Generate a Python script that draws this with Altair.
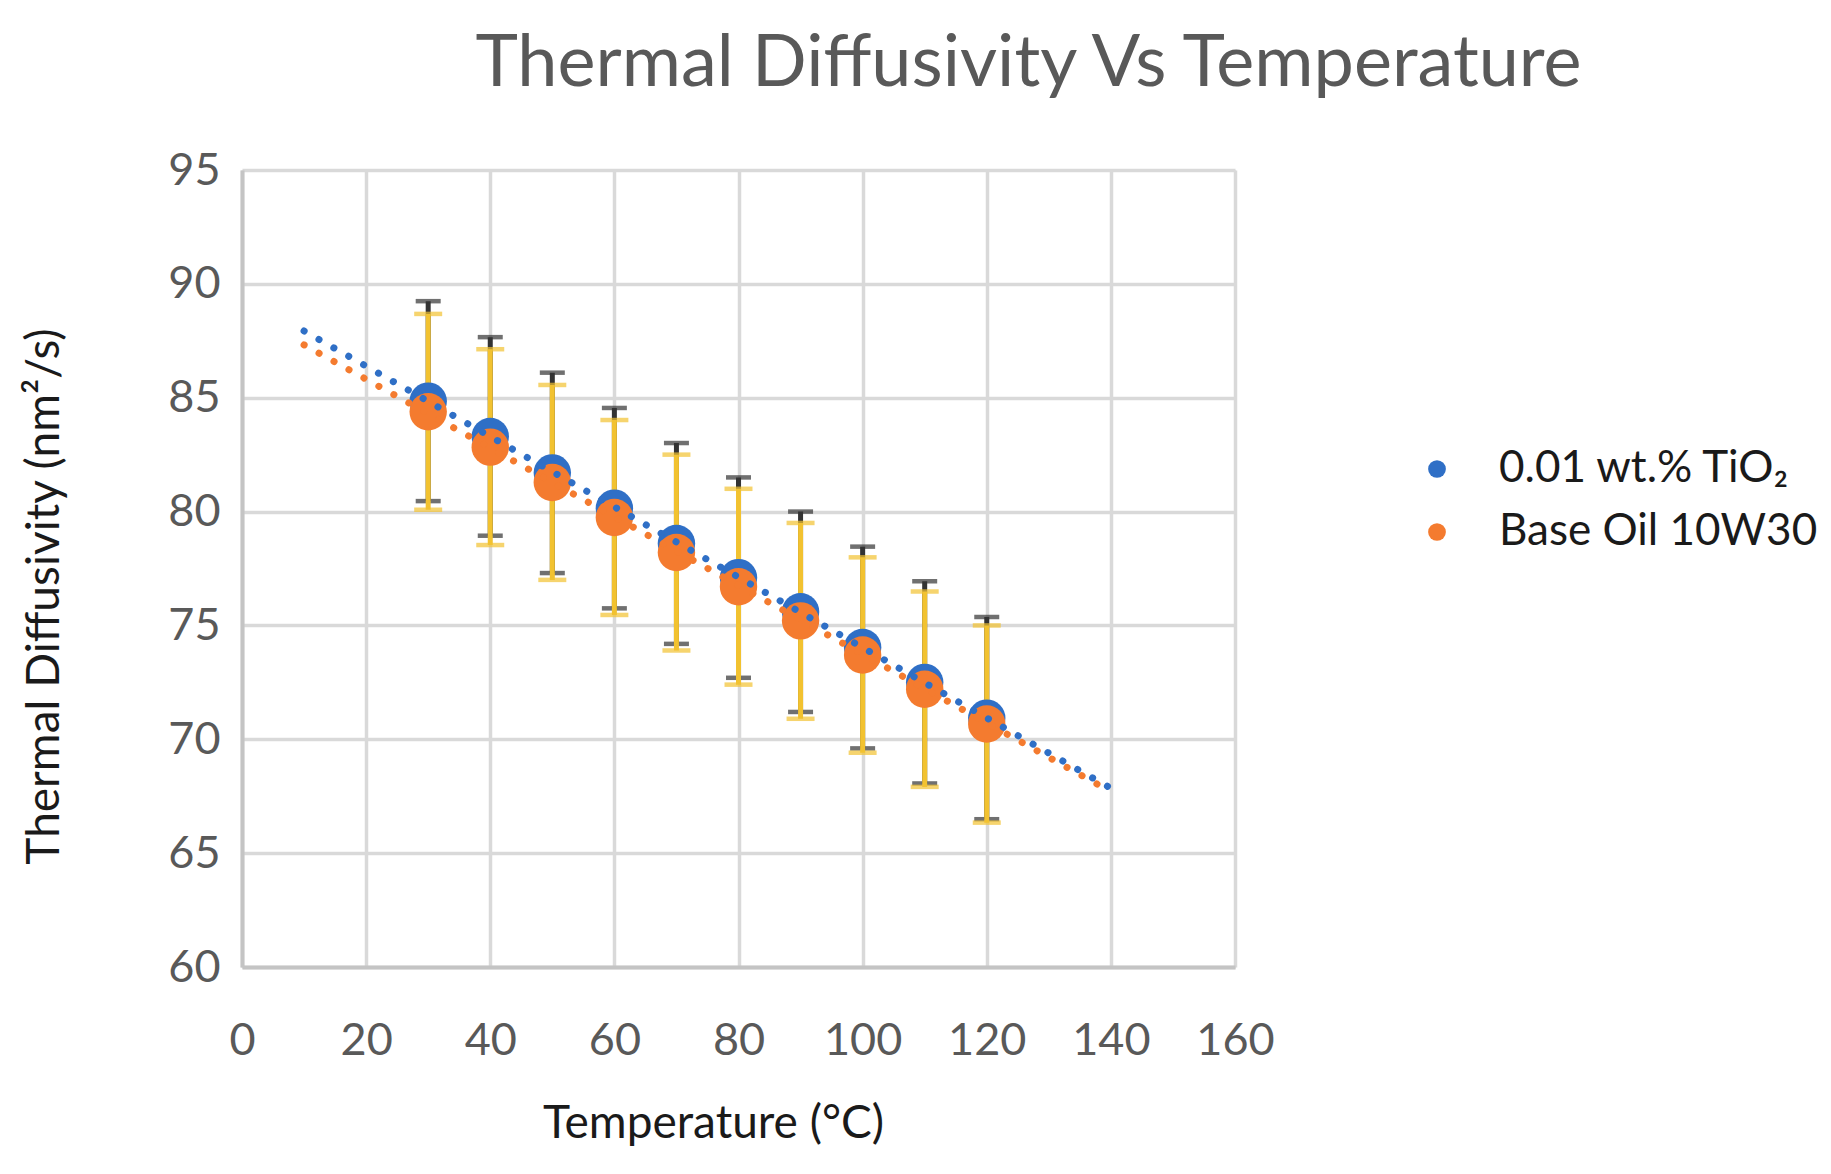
import altair as alt
import pandas as pd

# values
temps = [30, 40, 50, 60, 70, 80, 90, 100, 110, 120]
tio2 = [84.85, 83.3, 81.7, 80.15, 78.6, 77.1, 75.6, 74.03, 72.5, 70.93]
base_oil = [84.38, 82.83, 81.28, 79.74, 78.2, 76.7, 75.2, 73.7, 72.2, 70.67]
tio2_err = [4.39, 4.36, 4.4, 4.4, 4.41, 4.4, 4.4, 4.43, 4.44, 4.44]
base_err = [4.3, 4.3, 4.28, 4.28, 4.3, 4.3, 4.3, 4.29, 4.29, 4.33]

trend_x = [10, 140]
trend_tio2 = [87.93, 67.85]
trend_base = [87.32, 67.7]

x_ticks = [0, 20, 40, 60, 80, 100, 120, 140, 160]
y_ticks = [60, 65, 70, 75, 80, 85, 90, 95]

s1 = "0.01 wt.% TiO₂"
s2 = "Base Oil 10W30"
blue = "#2F6FC6"
orange = "#F47B2F"
gold = "#F2C230"
dark = "#333333"
font = "Lato"

pts = pd.DataFrame({
    "temp": temps + temps,
    "diff": tio2 + base_oil,
    "series": [s1] * len(temps) + [s2] * len(temps),
})

err1 = pd.DataFrame({"temp": temps,
                     "lo": [v - e for v, e in zip(tio2, tio2_err)],
                     "hi": [v + e for v, e in zip(tio2, tio2_err)]})
err2 = pd.DataFrame({"temp": temps,
                     "lo": [v - e for v, e in zip(base_oil, base_err)],
                     "hi": [v + e for v, e in zip(base_oil, base_err)]})

tr1 = pd.DataFrame({"temp": trend_x, "diff": trend_tio2})
tr2 = pd.DataFrame({"temp": trend_x, "diff": trend_base})

x_axis = alt.Axis(values=x_ticks, grid=True, gridColor="#d9d9d9", gridWidth=3.5,
                  domainColor="#c4c4c4", domainWidth=4, ticks=False, tickSize=0,
                  labelFont=font, labelFontSize=45, labelColor="#595959",
                  labelBaseline="alphabetic", labelPadding=87, labelFlush=False,
                  labelOverlap=False,
                  title="Temperature (°C)", titleFont=font, titleFontSize=46,
                  titleFontWeight="normal", titleColor="#1a1a1a",
                  titleX=471, titleY=170, titleBaseline="alphabetic", titleAlign="center")
y_axis = alt.Axis(values=y_ticks, grid=True, gridColor="#d9d9d9", gridWidth=3.5,
                  domainColor="#c4c4c4", domainWidth=4, ticks=False, tickSize=0,
                  labelFont=font, labelFontSize=45, labelColor="#595959",
                  labelPadding=22, labelFlush=False, labelOverlap=False,
                  title="Thermal Diffusivity (nm²/s)", titleFont=font, titleFontSize=46,
                  titleFontWeight="normal", titleColor="#1a1a1a",
                  titleX=-184, titleY=426, titleBaseline="alphabetic", titleAlign="center")

xs = alt.Scale(domain=[0, 160], nice=False)
ys = alt.Scale(domain=[60, 95], nice=False, zero=False)
X = alt.X("temp:Q", scale=xs, axis=x_axis)


def bars(df, color, cap):
    rule = alt.Chart(df).mark_rule(color=color, strokeWidth=5).encode(
        x=X, y=alt.Y("lo:Q", scale=ys, axis=y_axis), y2="hi:Q")
    top = alt.Chart(df).mark_tick(color=color, orient="horizontal", size=cap, thickness=4.5).encode(
        x=X, y=alt.Y("hi:Q", scale=ys, axis=y_axis))
    bottom = alt.Chart(df).mark_tick(color=color, orient="horizontal", size=cap, thickness=4.5).encode(
        x=X, y=alt.Y("lo:Q", scale=ys, axis=y_axis))
    return rule + top + bottom


points = alt.Chart(pts).mark_circle(size=1400, opacity=1).encode(
    x=X,
    y=alt.Y("diff:Q", scale=ys, axis=y_axis),
    color=alt.Color("series:N",
                    scale=alt.Scale(domain=[s1, s2], range=[blue, orange]),
                    legend=alt.Legend(title=None, orient="none", legendX=1173, legendY=277,
                                      symbolType="circle", symbolSize=314, symbolStrokeWidth=0,
                                      labelFont=font, labelFontSize=44, labelColor="#1a1a1a",
                                      labelOffset=40, rowPadding=19, padding=0,
                                      labelLimit=600)),
)


def trend(df, color):
    return alt.Chart(df).mark_line(color=color, strokeWidth=7, strokeCap="round",
                                   strokeDash=[0.1, 17]).encode(
        x=X, y=alt.Y("diff:Q", scale=ys, axis=y_axis))


chart = alt.layer(
    bars(err1, dark, 25),
    bars(err2, gold, 28),
    points,
    trend(tr2, orange),
    trend(tr1, blue),
).properties(
    width=993,
    height=797,
    padding={"left": 234, "top": 162, "right": 588, "bottom": 199},
    autosize=alt.AutoSizeParams(type="none"),
    title=alt.TitleParams("Thermal Diffusivity Vs Temperature", font=font, fontSize=72,
                          fontWeight="normal", color="#595959", anchor="middle",
                          frame="group", dx=290, offset=-10, baseline="alphabetic",
                          limit=1700),
).configure_view(strokeWidth=0).configure(background="white")

chart.save("out.html", embed_options={"renderer": "svg", "actions": False})
